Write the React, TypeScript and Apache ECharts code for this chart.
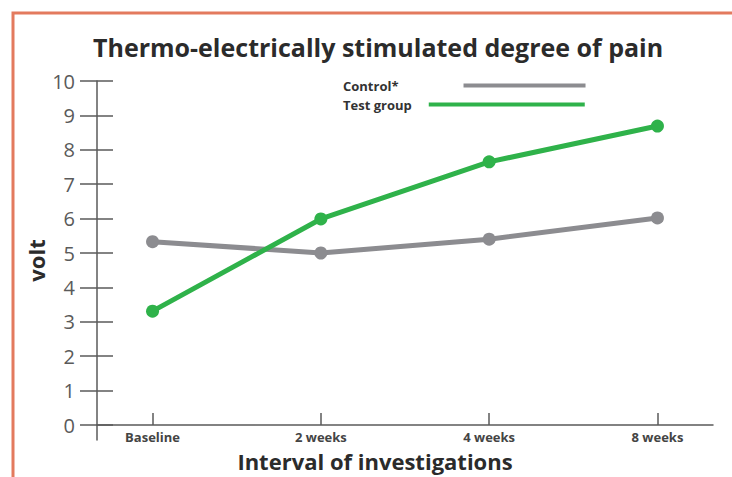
import React, { useEffect, useRef } from "react";
import * as echarts from "echarts";

const categories = ["Baseline", "2 weeks", "4 weeks", "8 weeks"];
const controlValues = [5.33, 5.0, 5.4, 6.02];
const testValues = [3.31, 5.99, 7.65, 8.69];
const xTicks = [0, 1, 2, 3];

const GRAY = "#8c8c90";
const GREEN = "#2fb24a";
const AXIS = "#5a5a5a";
const FONT = "'Open Sans', Lato, sans-serif";

export default function App() {
  const ref = useRef<HTMLDivElement>(null);
  useEffect(() => {
    document.body.style.margin = "0";
    const chart = echarts.init(ref.current!, null, { renderer: "svg" });
    chart.setOption({
      animation: false,
      backgroundColor: "#ffffff",
      title: {
        text: "Thermo-electrically stimulated degree of pain",
        left: 88,
        top: 29,
        textStyle: { fontFamily: FONT, fontSize: 25, fontWeight: "bold", color: "#2b2b2b" },
      },
      graphic: [
        {
          type: "rect",
          shape: { x: 13, y: 13, width: 800, height: 500 },
          style: { fill: "none", stroke: "#e37a5e", lineWidth: 3 },
          silent: true,
        },
      ],
      legend: [
        {
          data: ["Control*"],
          left: 343,
          top: 79,
          padding: 0,
          align: "right",
          icon: "rect",
          itemWidth: 122,
          itemHeight: 4,
          selectedMode: false,
          textStyle: { fontFamily: FONT, fontSize: 13, fontWeight: "bold", color: "#333", padding: [0, 60, 0, 0] },
        },
        {
          data: ["Test group"],
          left: 343,
          top: 98,
          padding: 0,
          align: "right",
          icon: "rect",
          itemWidth: 156,
          itemHeight: 4,
          selectedMode: false,
          textStyle: { fontFamily: FONT, fontSize: 13, fontWeight: "bold", color: "#333", padding: [0, 12, 0, 0] },
        },
      ],
      grid: [
        { left: 97, right: 19, top: 81, bottom: 52, outerBoundsMode: "none" },
        { left: 97, right: 19, top: 81, bottom: 37, outerBoundsMode: "none" },
      ],
      xAxis: [
        {
          type: "value",
          gridIndex: 0,
          min: -0.33,
          max: 3.33,
          splitLine: { show: false },
          axisLine: { onZero: false, lineStyle: { color: AXIS, width: 1.5 } },
          axisTick: { customValues: xTicks, inside: true, length: 12, lineStyle: { color: AXIS, width: 1.5 } },
          axisLabel: {
            customValues: xTicks,
            formatter: (v: number) => categories[Math.round(v)] ?? "",
            margin: 5,
            lineHeight: 13,
            fontFamily: FONT,
            fontSize: 13,
            fontWeight: "bold",
            color: "#444",
          },
          name: "Interval of investigations",
          nameLocation: "middle",
          nameGap: 25,
          nameMoveOverlap: false,
          nameTextStyle: {
            fontFamily: FONT,
            fontSize: 22,
            lineHeight: 22,
            fontWeight: "bold",
            color: "#2b2b2b",
            padding: [0, 60, 0, 0],
          },
        },
        { type: "value", gridIndex: 1, min: 0, max: 1, show: false },
      ],
      yAxis: [
        {
          type: "value",
          gridIndex: 0,
          min: 0,
          max: 10,
          interval: 1,
          splitLine: { show: false },
          axisLine: { show: false, onZero: false },
          axisTick: { show: true, length: 17, lineStyle: { color: AXIS, width: 1.5 } },
          axisLabel: {
            margin: 22,
            fontFamily: FONT,
            fontSize: 20,
            color: "#5a5a5a",
          },
        },
        {
          type: "value",
          gridIndex: 0,
          min: 0,
          max: 10,
          interval: 1,
          position: "left",
          splitLine: { show: false },
          axisLine: { show: false, onZero: false },
          axisTick: { show: true, inside: true, length: 16, lineStyle: { color: AXIS, width: 1.5 } },
          axisLabel: { show: false },
        },
        {
          type: "value",
          gridIndex: 1,
          min: 0,
          max: 1,
          position: "left",
          splitLine: { show: false },
          axisLine: { show: true, onZero: false, lineStyle: { color: AXIS, width: 1.5 } },
          axisTick: { show: false },
          axisLabel: { show: false },
          name: "volt",
          nameLocation: "middle",
          nameGap: 50,
          nameRotate: 90,
          nameTextStyle: { fontFamily: FONT, fontSize: 22, fontWeight: "bold", color: "#2b2b2b" },
        },
      ],
      series: [
        {
          name: "Control*",
          type: "line",
          xAxisIndex: 0,
          yAxisIndex: 0,
          data: controlValues.map((v, i) => [i, v]),
          symbol: "circle",
          symbolSize: 13,
          color: GRAY,
          lineStyle: { width: 5, color: GRAY },
          itemStyle: { color: GRAY },
        },
        {
          name: "Test group",
          type: "line",
          xAxisIndex: 0,
          yAxisIndex: 0,
          data: testValues.map((v, i) => [i, v]),
          symbol: "circle",
          symbolSize: 13,
          color: GREEN,
          lineStyle: { width: 5, color: GREEN },
          itemStyle: { color: GREEN },
        },
      ],
    });
    return () => chart.dispose();
  }, []);
  return <div ref={ref} style={{ width: 732, height: 477 }} />;
}
